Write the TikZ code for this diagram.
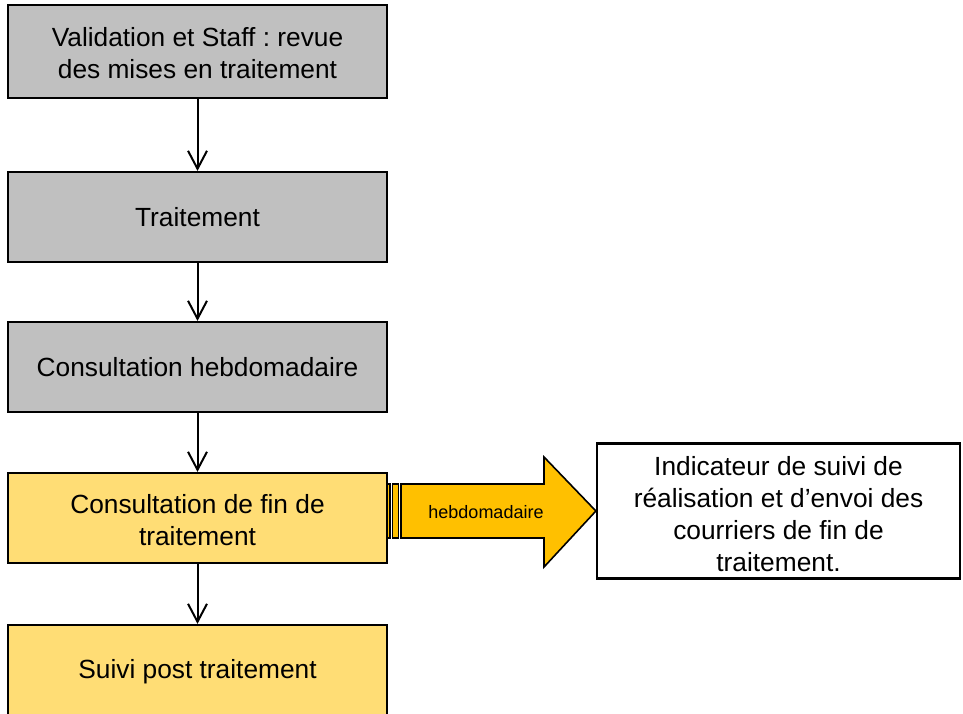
\documentclass[tikz,border=0pt]{standalone}
\usepackage{fontspec}
\setmainfont{Liberation Sans}
\usetikzlibrary{arrows.meta}
\frenchspacing
\definecolor{boxgray}{HTML}{C0C0C0}
\definecolor{boxyellow}{HTML}{FFDD75}
\definecolor{arrowgold}{HTML}{FFC000}
% invisible strut that sets the height of a first text line
\newcommand{\firstline}[1]{\rule{0pt}{#1}}
\tikzset{
  flowbox/.style={draw=black, line width=2.2pt, minimum width=379pt, minimum height=90pt,
    inner sep=0pt, align=center, font=\fontsize{26.3}{32}\selectfont},
  graybox/.style={flowbox, fill=boxgray},
  yellowbox/.style={flowbox, fill=boxyellow},
  notebox/.style={draw=black, line width=2.2pt, fill=white, minimum width=363pt, minimum height=135pt,
    inner sep=0pt, align=center, font=\fontsize{26.3}{32}\selectfont},
  flowarrow/.style={draw=black, line width=2pt, -{Straight Barb[length=18pt, width=19pt, line width=2pt]}},
  fatpart/.style={draw=black, line width=1.6pt, fill=arrowgold, line join=miter}
}
\begin{document}
\begin{tikzpicture}[x=1pt, y=-1pt]
  \useasboundingbox (0,0) rectangle (963,713);
  \clip (0,0) rectangle (963,713);

  % process steps
  \node[graybox, minimum height=93pt] (valid) at (197.5, 51.5)
    {\firstline{23pt}Validation et Staff : revue\\des mises en traitement};
  \node[graybox]   (trait)  at (197.5, 217)  {Traitement};
  \node[graybox]   (hebdo)  at (197.5, 367)  {Consultation hebdomadaire};
  \node[yellowbox] (fin)    at (197.5, 518)  {\firstline{22.5pt}Consultation de fin de\\traitement};
  \node[yellowbox, minimum height=94pt] (suivi) at (197.5, 672) {Suivi post traitement};

  % indicator
  \node[notebox] (indic) at (778.5, 511) {\firstline{26pt}Indicateur de suivi de\\réalisation et d’envoi des\\courriers de fin de\\traitement.};

  % step connectors
  \draw[flowarrow] (valid.south) -- (trait.north);
  \draw[flowarrow] (trait.south) -- (hebdo.north);
  \draw[flowarrow] (hebdo.south) -- (fin.north);
  \draw[flowarrow] (fin.south) -- (suivi.north);

  % striped block arrow towards the indicator
  \draw[fatpart] (387,484) rectangle (390,538);
  \draw[fatpart] (392.5,484) rectangle (398.5,538);
  \draw[fatpart] (401,484) -- (544,484) -- (544,457) -- (indic.west) -- (544,567)
    -- (544,538) -- (401,538) -- cycle;
  \node[font=\fontsize{18}{20}\selectfont] (freq) at (486, 512) {hebdomadaire};
\end{tikzpicture}
\end{document}
